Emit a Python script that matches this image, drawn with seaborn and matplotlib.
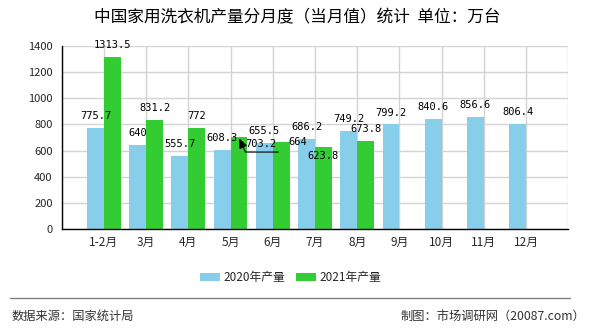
import matplotlib
matplotlib.use("Agg")
import matplotlib.pyplot as plt
from matplotlib.patches import Patch
from matplotlib.lines import Line2D
import numpy as np
import pandas as pd
import seaborn as sns

# Monthly output of household washing machines (10k units)
months = ["1-2月", "3月", "4月", "5月", "6月", "7月", "8月", "9月", "10月", "11月", "12月"]
output_2020 = [775.7, 640, 555.7, 608.3, 655.5, 686.2, 749.2, 799.2, 840.6, 856.6, 806.4]
output_2021 = [1313.5, 831.2, 772, 703.2, 664, 623.8, 673.8, None, None, None, None]
series_names = ["2020年产量", "2021年产量"]
y_ticks = [0, 200, 400, 600, 800, 1000, 1200, 1400]

title = "中国家用洗衣机产量分月度（当月值）统计  单位：万台"
source_text = "数据来源：国家统计局"
credit_text = "制图：市场调研网（20087.com）"

BLUE = "#87CEEB"
GREEN = "#33CC33"

sns.set_style("white")
plt.rcParams["font.family"] = ["Noto Sans CJK SC", "DejaVu Sans"]

df = pd.DataFrame({
    "月份": months * 2,
    "产量": [np.nan if v is None else v for v in output_2020 + output_2021],
    "年份": [series_names[0]] * len(months) + [series_names[1]] * len(months),
})

fig = plt.figure(figsize=(5.9, 3.3), dpi=100)
ax = fig.add_axes([61.7 / 590, 1 - 229.3 / 330, (568.3 - 61.7) / 590, (229.3 - 45.7) / 330])

sns.barplot(data=df, x="月份", y="产量", hue="年份", order=months,
            hue_order=series_names, palette=[BLUE, GREEN], saturation=1,
            width=0.8, linewidth=0, ax=ax, legend=False)

ax.set_xlim(-1, 11)
ax.set_ylim(0, 1400)
ax.set_xlabel("")
ax.set_ylabel("")

# grid behind the bars, including cell boundaries at the ends
ax.set_axisbelow(True)
ax.set_xticks(range(-1, 12))
ax.set_xticklabels([""] + months + [""], fontsize=8.5)
ax.set_yticks(y_ticks)
ax.set_yticklabels([str(t) for t in y_ticks], fontsize=8)
ax.grid(True, axis="both", color="#d3d3d3", linewidth=1)
for side in ("top", "right"):
    ax.spines[side].set_visible(False)
for side in ("left", "bottom"):
    ax.spines[side].set_color("black")
    ax.spines[side].set_linewidth(1)
ax.tick_params(axis="y", direction="out", length=5.5, width=1, color="black", pad=1)
ax.tick_params(axis="x", direction="out", length=2.5, width=1, color="black", pad=2)

# value labels
label_font = dict(family="DejaVu Sans Mono", fontsize=7.5, color="black")
half = 0.2
for i, v in enumerate(output_2020):
    ax.annotate(f"{v:g}", xy=(i - half, v), xytext=(0, 8.6), textcoords="offset points",
                ha="center", va="center", **label_font)

# labels that are moved away from their bar to avoid overlaps
moved_2021 = {3: (3.73, 650), 4: (4.58, 666), 5: (5.2, 559)}
for i, v in enumerate(output_2021):
    if v is None:
        continue
    if i in moved_2021:
        ax.text(*moved_2021[i], f"{v:g}", ha="center", va="center", **label_font)
    else:
        ax.annotate(f"{v:g}", xy=(i + half, v), xytext=(0, 8.6), textcoords="offset points",
                    ha="center", va="center", **label_font)

# leader line for the relocated May label
ax.annotate("", xy=(3 + half, output_2021[3] - 8), xytext=(4.13, 589),
            arrowprops=dict(arrowstyle="-|>,head_length=0.6,head_width=0.25",
                            color="black", lw=0.8, shrinkA=0, shrinkB=0,
                            connectionstyle="angle,angleA=0,angleB=-65"))

fig.text(297.5 / 590, 1 - 18 / 330, title, ha="center", va="center",
         fontsize=12, color="black")

handles = [Patch(facecolor=BLUE, edgecolor="none"), Patch(facecolor=GREEN, edgecolor="none")]
fig.legend(handles, series_names, loc="center", bbox_to_anchor=(291 / 590, 1 - 277.7 / 330),
           ncol=2, frameon=False, fontsize=8.5, handlelength=1.7, handleheight=0.65,
           handletextpad=0.3, columnspacing=0.9, borderpad=0)

fig.add_artist(Line2D([10 / 590, 570 / 590], [1 - 298.3 / 330] * 2,
                      transform=fig.transFigure, color="#808080", lw=1))
fig.text(12 / 590, 1 - 316 / 330, source_text, ha="left", va="center",
         fontsize=8.8, color="#333333")
fig.text(585 / 590, 1 - 316 / 330, credit_text, ha="right", va="center",
         fontsize=8.8, color="#333333")

fig.savefig("out.png", dpi=100)
